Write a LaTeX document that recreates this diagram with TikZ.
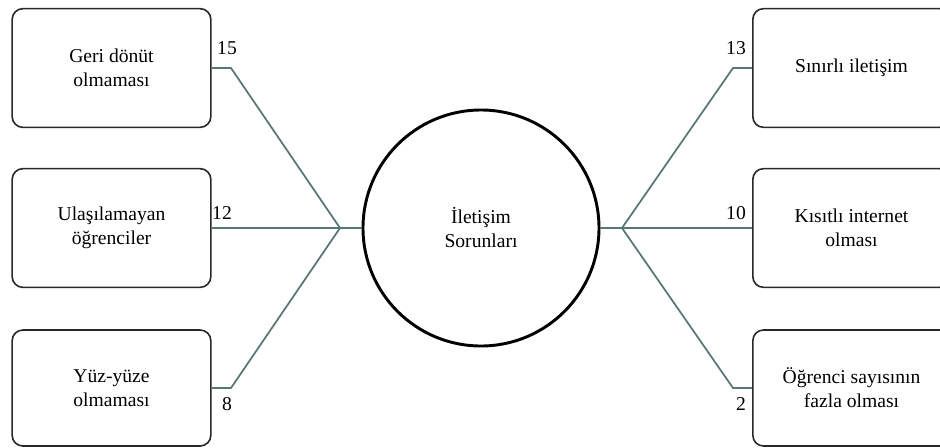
\documentclass[tikz,border=0pt]{standalone}
\usepackage{fontspec}
\setmainfont{Liberation Serif}
\definecolor{conn}{RGB}{88,118,118}
\definecolor{boxline}{RGB}{40,40,40}
\begin{document}
\begin{tikzpicture}[x=0.75pt,y=-0.75pt,
  txt/.style={font=\fontsize{14.7}{18}\selectfont, align=center},
  cause/.style={txt, draw=boxline, line width=1.2pt, rounded corners=8pt, fill=white,
    minimum width=149pt, minimum height=89pt, inner sep=0pt},
  hub/.style={txt, draw=black, line width=2.2pt, circle, minimum size=177pt, inner sep=0pt},
  num/.style={font=\fontsize{14.7}{18}\selectfont, inner sep=0pt},
  link/.style={draw=conn, line width=1.3pt}
]
\clip (0,0) rectangle (940,447);
\fill[white] (0,0) rectangle (940,447);

% centre
\node[hub] (c) at (481,228) {İletişim\\Sorunları};

% left boxes
\node[cause] (l1) at (111.5,68) {Geri dönüt\\olmaması};
\node[cause] (l2) at (111.5,228) {Ulaşılamayan\\öğrenciler};
\node[cause, minimum height=87pt] (l3) at (111.5,388) {Yüz-yüze\\olmaması};

% right boxes
\node[cause, minimum width=148pt] (r1) at (851.5,68) {Sınırlı iletişim};
\node[cause, minimum width=148pt] (r2) at (851.5,228) {Kısıtlı internet\\olması};
\node[cause, minimum width=148pt, minimum height=87pt] (r3) at (851.5,388) {Öğrenci sayısının\\fazla olması};

% junctions and bends
\coordinate (jl) at (340,228);
\coordinate (jr) at (622,228);
\coordinate (bl1) at (231,68);
\coordinate (bl3) at (231,388);
\coordinate (br1) at (733,68);
\coordinate (br3) at (733,388);

% connectors
\draw[link] (l1.east) -- (bl1) -- (jl);
\draw[link] (l2.east) -- (jl);
\draw[link] (l3.east) -- (bl3) -- (jl);
\draw[link, line width=2pt] (jl) -- (c.west);
\draw[link, line width=2pt] (c.east) -- (jr);
\draw[link] (jr) -- (br1) -- (r1.west);
\draw[link] (jr) -- (r2.west);
\draw[link] (jr) -- (br3) -- (r3.west);

% counts
\node[num] (n15) at (227,48) {15};
\node[num] (n12) at (222,213) {12};
\node[num] (n8) at (227,404) {8};
\node[num] (n13) at (736,48) {13};
\node[num] (n10) at (736,213) {10};
\node[num] (n2) at (741,404) {2};
\end{tikzpicture}
\end{document}
